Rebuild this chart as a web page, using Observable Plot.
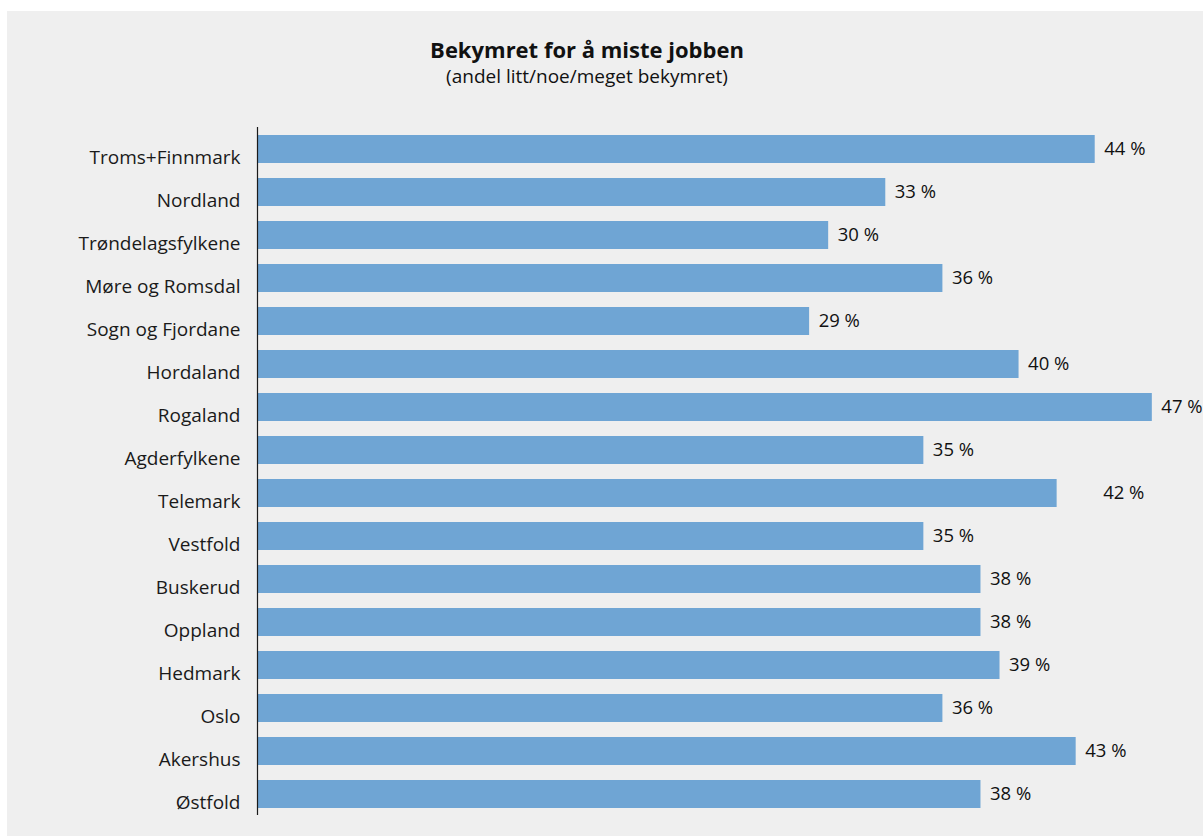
<!DOCTYPE html>
<html>
<head>
<meta charset="utf-8">
<script src="https://cdn.jsdelivr.net/npm/d3@7"></script>
<script src="https://cdn.jsdelivr.net/npm/@observablehq/plot@0.6"></script>
<style>
  html, body { margin: 0; padding: 0; background: #ffffff; }
  #panel { position: absolute; left: 7px; top: 11px; width: 1196px; height: 825px; background: #efefef; overflow: hidden; font-family: "Open Sans", sans-serif; }
  #title { position: absolute; left: 0; width: 1160px; top: 23px; text-align: center; font-size: 22px; font-weight: bold; color: #111; }
  #subtitle { position: absolute; left: 0; width: 1160px; top: 52px; text-align: center; font-size: 19px; color: #111; }
  #chart { position: absolute; left: 0; top: 0; }
</style>
</head>
<body>
<div id="panel">
  <div id="chart"></div>
  <div id="title">Bekymret for å miste jobben</div>
  <div id="subtitle">(andel litt/noe/meget bekymret)</div>
</div>
<script>
const regions = ["Troms+Finnmark", "Nordland", "Trøndelagsfylkene", "Møre og Romsdal", "Sogn og Fjordane", "Hordaland", "Rogaland", "Agderfylkene", "Telemark", "Vestfold", "Buskerud", "Oppland", "Hedmark", "Oslo", "Akershus", "Østfold"];
const shares = [44, 33, 30, 36, 29, 40, 47, 35, 42, 35, 38, 38, 39, 36, 43, 38];
const data = regions.map((r, i) => ({region: r, value: shares[i], label: shares[i] + " %"}));

const chart = Plot.plot({
  width: 1196,
  height: 825,
  marginLeft: 250,
  marginRight: 15,
  marginTop: 116,
  marginBottom: 21,
  style: {background: "transparent", fontFamily: "Open Sans, sans-serif"},
  x: {domain: [0, 48.9], axis: null},
  y: {domain: regions, paddingInner: 0.35, paddingOuter: 0.175, label: null},
  marks: [
    Plot.barX(data, {x: "value", y: "region", fill: "#6fa5d4"}),
    Plot.axisY({tickSize: 0, tickPadding: 17, fontSize: 19, dy: 8, fill: "#1a1a1a", label: null}),
    Plot.ruleX([0], {stroke: "#1a1a1a", strokeWidth: 1.2}),
    Plot.text(data.filter(d => d.region !== "Telemark"), {x: "value", y: "region", text: "label", textAnchor: "start", dx: 9, fontSize: 18.5, fill: "#111"}),
    Plot.text(data.filter(d => d.region === "Telemark"), {x: "value", y: "region", text: "label", textAnchor: "start", dx: 46, fontSize: 18.5, fill: "#111"})
  ]
});
document.getElementById("chart").appendChild(chart);
</script>
</body>
</html>
